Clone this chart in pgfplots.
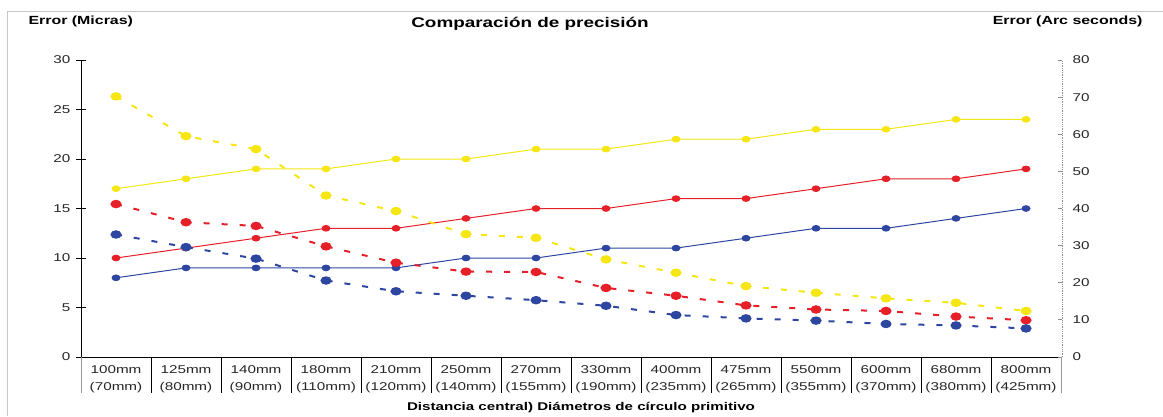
\documentclass[border=0pt]{standalone}
\usepackage{pgfplots}
\pgfplotsset{compat=1.18}
\usepackage{fontspec}
\setmainfont[FakeStretch=1.35]{Liberation Sans}
\definecolor{cy}{RGB}{245,230,20}
\definecolor{cr}{RGB}{230,32,40}
\definecolor{cb}{RGB}{45,70,160}
\begin{document}
\begin{tikzpicture}
\path[use as bounding box] (0pt,0pt) rectangle (1163pt,416pt);
\draw[black!22] (7pt,0pt) -- (7pt,405pt) -- (1163pt,405pt);
\node[font=\bfseries\fontsize{14}{16}\selectfont] at (530pt,392pt) {Comparación de precisión};
\node[anchor=west,font=\bfseries\fontsize{11.8}{14}\selectfont] at (25pt,395pt) {Error (Micras)};
\node[anchor=east,font=\bfseries\fontsize{11.8}{14}\selectfont] at (1146pt,395pt) {Error (Arc seconds)};
\node[font=\bfseries\fontsize{11.2}{14}\selectfont] at (581pt,8pt) {Distancia central) Diámetros de círculo primitivo};
\begin{axis}[at={(81pt,59pt)}, anchor=south west, width=980pt, height=297pt, scale only axis,
  xmin=-0.5, xmax=13.5, ymin=0, ymax=30, ytick={0,5,...,30},
  axis x line*=bottom, axis y line*=left, axis line style={-, black, line width=1pt},
  xtick={0,...,13}, major x tick style={draw=none},
  xticklabels={{100mm\\(70mm)},{125mm\\(80mm)},{140mm\\(90mm)},{180mm\\(110mm)},{210mm\\(120mm)},{250mm\\(140mm)},{270mm\\(155mm)},{330mm\\(190mm)},{400mm\\(235mm)},{475mm\\(265mm)},{550mm\\(355mm)},{600mm\\(370mm)},{680mm\\(380mm)},{800mm\\(425mm)}},
  xticklabel style={align=center, font=\fontsize{11.3}{17}\selectfont, text=black!85},
  yticklabel style={font=\fontsize{11.3}{14}\selectfont, text=black!85, xshift=-2pt},
  /pgf/number format/assume math mode=true,
  major y tick style={black, line width=1pt}, tick align=center, major tick length=10pt,
  clip=false]
\addplot[cy, line width=1pt, mark=*, mark size=2.8pt, mark options={xscale=1.4}] coordinates {(0,17)(1,18)(2,19)(3,19)(4,20)(5,20)(6,21)(7,21)(8,22)(9,22)(10,23)(11,23)(12,24)(13,24)};
\addplot[cr, line width=1pt, mark=*, mark size=2.8pt, mark options={xscale=1.4}] coordinates {(0,10)(1,11)(2,12)(3,13)(4,13)(5,14)(6,15)(7,15)(8,16)(9,16)(10,17)(11,18)(12,18)(13,19)};
\addplot[cb, line width=1pt, mark=*, mark size=2.8pt, mark options={xscale=1.4}] coordinates {(0,8)(1,9)(2,9)(3,9)(4,9)(5,10)(6,10)(7,11)(8,11)(9,12)(10,13)(11,13)(12,14)(13,15)};
\end{axis}
\begin{axis}[at={(81pt,59pt)}, anchor=south west, width=981pt, height=297pt, scale only axis,
  xmin=-0.5, xmax=13.514, ymin=0, ymax=80, ytick={0,10,...,80},
  axis x line=none, axis y line*=right, axis line style={-, black!45, densely dotted, line width=0.8pt},
  yticklabel style={font=\fontsize{11.3}{14}\selectfont, text=black!85, xshift=7pt},
  /pgf/number format/assume math mode=true,
  major y tick style={black!45, line width=0.8pt}, tick align=inside, major tick length=4pt, yticklabel pos=right,
  clip=false]
\addplot[cy, line width=2pt, dash pattern=on 6pt off 12pt, mark=*, mark size=3.2pt, mark options={xscale=1.4, solid}] coordinates {(0,70.2)(1,59.5)(2,56)(3,43.5)(4,39.3)(5,33.1)(6,32.1)(7,26.3)(8,22.7)(9,19.1)(10,17.3)(11,15.8)(12,14.6)(13,12.4)};
\addplot[cr, line width=2pt, dash pattern=on 6pt off 12pt, mark=*, mark size=3.2pt, mark options={xscale=1.4, solid}] coordinates {(0,41.2)(1,36.3)(2,35.3)(3,29.8)(4,25.4)(5,23)(6,22.9)(7,18.6)(8,16.5)(9,13.9)(10,12.8)(11,12.4)(12,10.9)(13,9.9)};
\addplot[cb, line width=2pt, dash pattern=on 6pt off 12pt, mark=*, mark size=3.2pt, mark options={xscale=1.4, solid}] coordinates {(0,33)(1,29.6)(2,26.5)(3,20.6)(4,17.7)(5,16.5)(6,15.3)(7,13.8)(8,11.3)(9,10.4)(10,9.8)(11,8.9)(12,8.5)(13,7.7)};
\end{axis}
\foreach \k in {1,...,13} \draw[line width=1pt] (81pt+\k*70pt,59pt) -- (81pt+\k*70pt,23pt);
\draw[black!40, line width=1pt] (81pt,59pt) -- (81pt,23pt);
\draw[black!40, line width=1pt] (1061pt,59pt) -- (1061pt,23pt);
\end{tikzpicture}
\end{document}
